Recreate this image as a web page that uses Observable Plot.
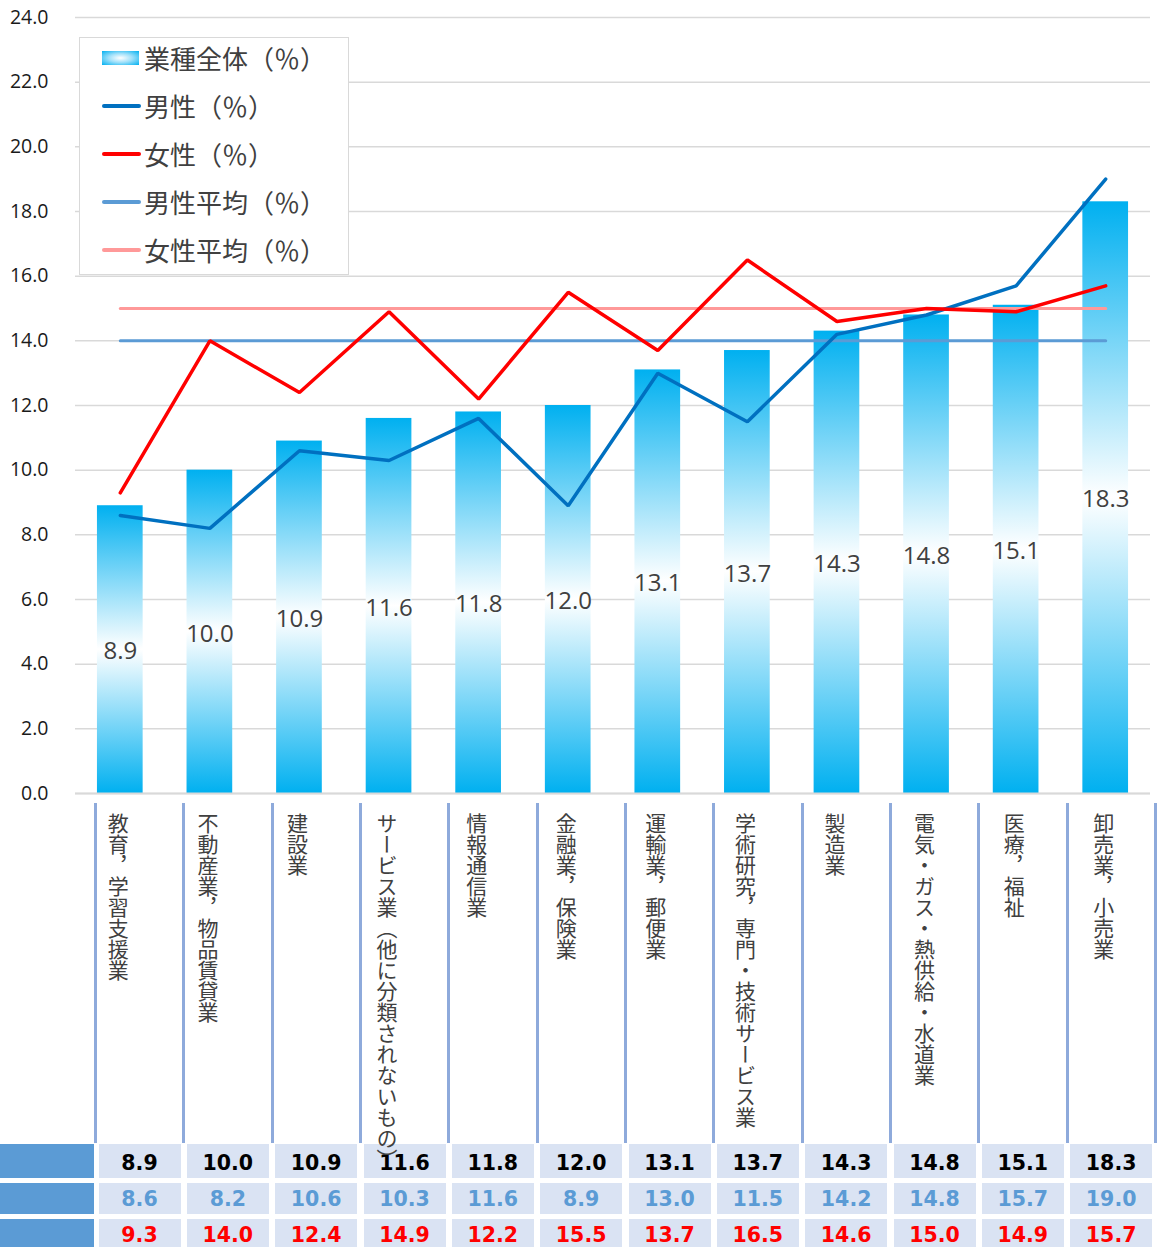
<!DOCTYPE html>
<html lang="ja"><head><meta charset="utf-8">
<script src="https://cdn.jsdelivr.net/npm/d3@7"></script>
<script src="https://cdn.jsdelivr.net/npm/@observablehq/plot@0.6"></script>
<style>
body{margin:0;background:#fff}
#wrap{position:relative;width:1160px;height:1247px;overflow:hidden;font-family:"Noto Sans CJK JP",sans-serif}
#wrap svg.plot{position:absolute;left:0;top:0}
.legend{position:absolute;left:79px;top:37px;width:268px;height:236px;border:1.5px solid #d9d9d9;background:#fff;box-sizing:content-box}
.lrow{position:absolute;left:0;height:40px;width:268px}
.lsw{position:absolute;left:22px;top:18px;width:39px;height:4px;border-radius:2px}
.ltx{position:absolute;left:64px;top:0;line-height:40px;font-size:26px;color:#404040;white-space:nowrap}
.sep{position:absolute;top:803px;height:340px;width:3px;background:#8eaadb}
.cat{position:absolute;top:813px;writing-mode:vertical-rl;text-orientation:mixed;font-size:21px;line-height:21px;color:#404040;white-space:nowrap;z-index:3}
.cell{position:absolute;background:#dae3f3;text-align:center;font-family:"DejaVu Sans",sans-serif;font-weight:bold;font-size:20.5px;z-index:1}
.hcell{position:absolute;left:0;width:94px;background:#5b9bd5}
</style></head><body><div id="wrap"></div>
<script>
// ---- data ----
const categories = ["教育，学習支援業","不動産業，物品賃貸業","建設業","サービス業（他に分類されないもの）","情報通信業","金融業，保険業","運輸業，郵便業","学術研究，専門・技術サービス業","製造業","電気・ガス・熱供給・水道業","医療，福祉","卸売業，小売業"];
const totalValues  = [8.9, 10.0, 10.9, 11.6, 11.8, 12.0, 13.1, 13.7, 14.3, 14.8, 15.1, 18.3];
const maleValues   = [8.6, 8.2, 10.6, 10.3, 11.6, 8.9, 13.0, 11.5, 14.2, 14.8, 15.7, 19.0];
const femaleValues = [9.3, 14.0, 12.4, 14.9, 12.2, 15.5, 13.7, 16.5, 14.6, 15.0, 14.9, 15.7];
const maleAverage = 14.0;
const femaleAverage = 15.0;
const yTicks = [0, 2, 4, 6, 8, 10, 12, 14, 16, 18, 20, 22, 24];
const seriesNames = ["業種全体（％）", "男性（％）", "女性（％）", "男性平均（％）", "女性平均（％）"];
const seriesColors = ["grad", "#0070c0", "#ff0000", "#5b9bd5", "#ff9999"];

const data = categories.map((c, i) => ({cat: c, total: totalValues[i], male: maleValues[i], female: femaleValues[i]}));

const defsMark = () => {
  const ns = "http://www.w3.org/2000/svg";
  const defs = document.createElementNS(ns, "defs");
  const g = document.createElementNS(ns, "linearGradient");
  g.setAttribute("id", "barGrad");
  g.setAttribute("x1", "0"); g.setAttribute("y1", "0"); g.setAttribute("x2", "0"); g.setAttribute("y2", "1");
  [[0, "#00b0f0"], [0.5, "#ffffff"], [1, "#00b0f0"]].forEach(([o, c]) => {
    const s = document.createElementNS(ns, "stop");
    s.setAttribute("offset", o); s.setAttribute("stop-color", c);
    g.appendChild(s);
  });
  defs.appendChild(g);
  return defs;
};

const lineOpts = {strokeWidth: 3.5, strokeLinejoin: "miter", strokeLinecap: "round"};

const chart = Plot.plot({
  width: 1160, height: 800,
  marginLeft: 75, marginRight: 10, marginTop: 17, marginBottom: 7,
  style: {fontFamily: "'Open Sans', sans-serif", background: "transparent", overflow: "visible"},
  x: {domain: categories, paddingInner: 0.49, paddingOuter: 0.245, round: false, axis: null},
  y: {domain: [0, 24], axis: null},
  marks: [
    defsMark,
    Plot.gridY(yTicks, {stroke: "#d9d9d9", strokeOpacity: 1, strokeWidth: 1.5}),
    Plot.axisY(yTicks, {tickSize: 0, tickPadding: 27, tickFormat: d => d.toFixed(1), fontSize: 19.5, fill: "#1a1a1a"}),
    Plot.barY(data, {x: "cat", y: "total", fill: "url(#barGrad)"}),
    Plot.ruleY([0], {stroke: "#d9d9d9", strokeWidth: 2}),
    Plot.text(data, {x: "cat", y: d => d.total / 2, text: d => d.total.toFixed(1), fontSize: 24, fill: "#404040", dy: 2}),
    Plot.line(data, {x: "cat", y: () => maleAverage, stroke: seriesColors[3], strokeWidth: 3, strokeLinecap: "round"}),
    Plot.line(data, {x: "cat", y: () => femaleAverage, stroke: seriesColors[4], strokeWidth: 3, strokeLinecap: "round"}),
    Plot.line(data, {x: "cat", y: "male", stroke: seriesColors[1], ...lineOpts}),
    Plot.line(data, {x: "cat", y: "female", stroke: seriesColors[2], ...lineOpts})
  ]
});
chart.classList.add("plot");
const wrap = document.getElementById("wrap");
wrap.appendChild(chart);

// ---- legend ----
const legend = document.createElement("div");
legend.className = "legend";
seriesNames.forEach((name, i) => {
  const row = document.createElement("div");
  row.className = "lrow";
  row.style.top = (0 + 48 * i) + "px";
  const sw = document.createElement("div");
  sw.className = "lsw";
  if (seriesColors[i] === "grad") {
    sw.style.top = "13px"; sw.style.height = "14px"; sw.style.width = "37px"; sw.style.borderRadius = "0";
    sw.style.background = "radial-gradient(ellipse at center, #ffffff 0%, #9fe0fa 45%, #00b0f0 100%)";
  } else {
    sw.style.background = seriesColors[i];
  }
  const tx = document.createElement("div");
  tx.className = "ltx";
  tx.textContent = name;
  row.appendChild(sw); row.appendChild(tx);
  legend.appendChild(row);
});
wrap.appendChild(legend);

// ---- category labels ----
const xs = chart.scale("x");
const sepStart = 95, sepStep = (1155 - 95) / 12;
for (let k = 0; k <= 12; k++) {
  const s = document.createElement("div");
  s.className = "sep";
  s.style.left = (sepStart + sepStep * k - 1) + "px";
  wrap.appendChild(s);
}
categories.forEach((c) => {
  const d = document.createElement("div");
  d.className = "cat";
  const cx = xs.apply(c) + xs.bandwidth / 2 - 2;
  d.style.left = (cx - 10.5) + "px";
  d.textContent = c;
  wrap.appendChild(d);
});

// ---- data table ----
const tableRows = [
  {values: totalValues, color: "#000000", top: 1144, h: 34, pad: 2},
  {values: maleValues, color: "#5b9bd5", top: 1183, h: 31, pad: 1},
  {values: femaleValues, color: "#ff0000", top: 1219, h: 32, pad: 0}
];
tableRows.forEach(r => {
  const h = document.createElement("div");
  h.className = "hcell";
  h.style.top = r.top + "px"; h.style.height = r.h + "px";
  wrap.appendChild(h);
  r.values.forEach((v, k) => {
    const c = document.createElement("div");
    c.className = "cell";
    c.style.left = (sepStart + sepStep * k + 3.5) + "px";
    c.style.width = "82px";
    c.style.top = r.top + "px"; c.style.height = r.h + "px";
    c.style.lineHeight = (r.h + 2 * r.pad) + "px";
    c.style.color = r.color;
    c.textContent = v.toFixed(1);
    wrap.appendChild(c);
  });
});
</script></body></html>
